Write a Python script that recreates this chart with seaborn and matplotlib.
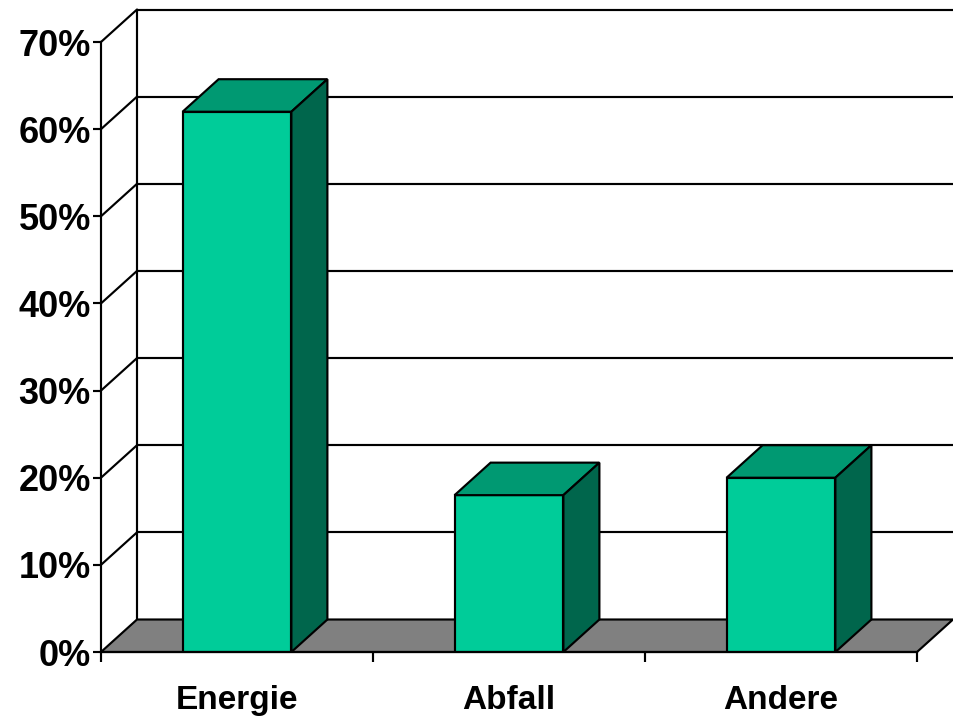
import numpy as np
import pandas as pd
import matplotlib
matplotlib.use("Agg")
import matplotlib.pyplot as plt
from matplotlib.patches import Polygon
import seaborn as sns

# ========== data ==========
categories = ["Energie", "Abfall", "Andere"]
values = [62, 18, 20]
y_ticks = [0, 10, 20, 30, 40, 50, 60, 70]

df = pd.DataFrame({"cat": categories, "val": values})

# ========== style ==========
sns.set_style("white")
plt.rcParams["font.family"] = ["Liberation Sans", "DejaVu Sans"]
plt.rcParams["font.weight"] = "bold"

front_col = "#00CC99"
top_col = "#009972"
side_col = "#00664C"
floor_col = "#808080"
lw = 1.55

fig = plt.figure(figsize=(9.54, 7.22), dpi=100)
ax = fig.add_axes([101 / 954, 1 - 652 / 722, 816 / 954, 610 / 722])
ax.set_xlim(-0.5, 2.5)
ax.set_ylim(0, 70)

# depth offset of the 3d look, in data units
dx = 36 / 272
dy = 32.5 / (610 / 70)

# back wall + left wall lines
for v in y_ticks[1:]:
    ax.plot([-0.5 + dx, 2.5 + dx], [v + dy, v + dy], color="black", lw=lw, zorder=0.5, clip_on=False)
    ax.plot([-0.5, -0.5 + dx], [v, v + dy], color="black", lw=lw, zorder=0.5, clip_on=False)
ax.plot([-0.5 + dx, -0.5 + dx], [dy, 70 + dy], color="black", lw=lw, zorder=0.5, clip_on=False)

# floor
floor = Polygon([(-0.5, 0), (2.5, 0), (2.5 + dx, dy), (-0.5 + dx, dy)], closed=True,
                facecolor=floor_col, edgecolor="black", lw=lw, zorder=0.8, clip_on=False)
ax.add_patch(floor)

# bars (front faces)
sns.barplot(data=df, x="cat", y="val", order=categories, color=front_col, width=0.4,
            edgecolor="black", linewidth=lw, saturation=1, ax=ax)

for p in list(ax.patches):
    if p is floor:
        continue
    p.set_zorder(2)
    x0 = p.get_x()
    w = p.get_width()
    h = p.get_height()
    top = Polygon([(x0, h), (x0 + w, h), (x0 + w + dx, h + dy), (x0 + dx, h + dy)], closed=True,
                  facecolor=top_col, edgecolor="black", lw=lw, zorder=2, clip_on=False)
    side = Polygon([(x0 + w, 0), (x0 + w + dx, dy), (x0 + w + dx, h + dy), (x0 + w, h)], closed=True,
                   facecolor=side_col, edgecolor="black", lw=lw, zorder=2, clip_on=False)
    ax.add_patch(top)
    ax.add_patch(side)

# axes
for s in ["top", "right"]:
    ax.spines[s].set_visible(False)
for s in ["left", "bottom"]:
    ax.spines[s].set_color("black")
    ax.spines[s].set_linewidth(lw)
    ax.spines[s].set_zorder(3)

ax.set_yticks(y_ticks)
ax.set_yticklabels([f"{v}%" for v in y_ticks])
ax.tick_params(axis="y", left=True, direction="out", length=5.8, width=lw, pad=1.5,
               labelsize=26, colors="black")

ax.set_xticks(range(len(categories)))
ax.set_xticklabels(categories)
ax.set_xticks(np.arange(-0.5, len(categories), 1.0), minor=True)
ax.tick_params(axis="x", which="major", bottom=True, length=0, pad=23.5, labelsize=24, colors="black")
ax.tick_params(axis="x", which="minor", bottom=True, direction="out", length=7.2, width=lw,
               colors="black")
ax.set_xlabel("")
ax.set_ylabel("")

plt.savefig("out.png", dpi=100)
